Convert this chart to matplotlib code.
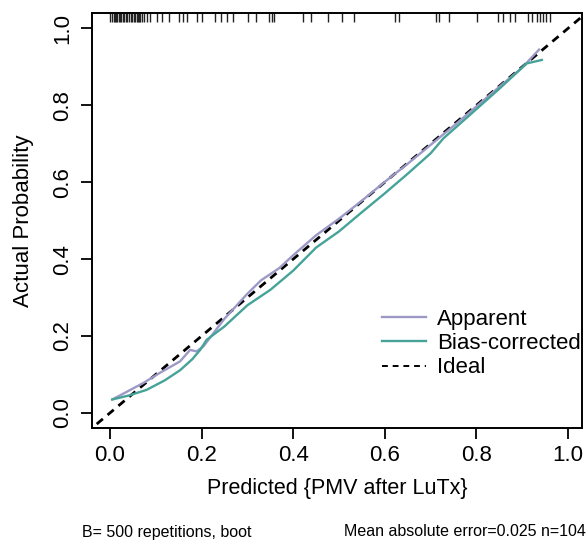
"""Calibration curve: apparent vs bias-corrected (rms-style plot)."""

import matplotlib
matplotlib.use("Agg")
import matplotlib.pyplot as plt
from matplotlib.lines import Line2D
import matplotlib.transforms as mtransforms

plt.rcParams["font.family"] = ["Liberation Sans", "DejaVu Sans"]

# apparent calibration curve
app_x = [0.005, 0.04, 0.073, 0.11, 0.153, 0.175, 0.189, 0.204, 0.25, 0.30, 0.33,
         0.37, 0.40, 0.45, 0.50, 0.55, 0.60, 0.65, 0.70, 0.75, 0.80, 0.85, 0.90, 0.937]
app_y = [0.035, 0.057, 0.078, 0.105, 0.134, 0.164, 0.160, 0.173, 0.245, 0.31, 0.345,
         0.377, 0.41, 0.462, 0.505, 0.552, 0.601, 0.648, 0.697, 0.746, 0.797, 0.848, 0.898, 0.945]

# bias-corrected calibration curve
bc_x = [0.005, 0.04, 0.08, 0.12, 0.153, 0.18, 0.197, 0.211, 0.25, 0.30, 0.35,
        0.40, 0.45, 0.50, 0.55, 0.60, 0.65, 0.70, 0.728, 0.80, 0.85, 0.91, 0.943]
bc_y = [0.035, 0.045, 0.06, 0.085, 0.111, 0.14, 0.164, 0.19, 0.225, 0.28, 0.32,
        0.37, 0.43, 0.472, 0.522, 0.571, 0.622, 0.675, 0.714, 0.79, 0.843, 0.909, 0.918]

# rug of predicted values (top of panel)
rug_x = [0.000, 0.004, 0.008, 0.010, 0.013, 0.016, 0.019, 0.022, 0.025, 0.028,
         0.031, 0.034, 0.037, 0.041, 0.045, 0.048, 0.052, 0.055, 0.058, 0.061,
         0.063, 0.066, 0.070, 0.075, 0.080, 0.087, 0.102, 0.113, 0.129, 0.151,
         0.159, 0.169, 0.191, 0.202, 0.229, 0.242, 0.255, 0.269, 0.301, 0.318,
         0.348, 0.354, 0.359, 0.421, 0.439, 0.475, 0.506, 0.533, 0.623, 0.630,
         0.711, 0.718, 0.741, 0.802, 0.848, 0.859, 0.873, 0.884, 0.912, 0.921,
         0.933, 0.939, 0.945, 0.953, 0.961]

ticks = [0.0, 0.2, 0.4, 0.6, 0.8, 1.0]
tick_labels = ["0.0", "0.2", "0.4", "0.6", "0.8", "1.0"]

fig = plt.figure(figsize=(5.87, 5.43), dpi=100)
ax = fig.add_axes([0.1572, 0.2112, 0.8338, 0.7648])

ax.plot([-0.1, 1.1], [-0.1, 1.1], color="black", lw=2, dashes=(2.9, 2.2))
ax.plot(app_x, app_y, color="#9d99c7", lw=1.7)
ax.plot(bc_x, bc_y, color="#45a398", lw=1.7)

trans = mtransforms.blended_transform_factory(ax.transData, ax.transAxes)
ax.vlines(rug_x, 0.979, 1.0, transform=trans, color="#222222", lw=1.0)

ax.set_xlim(-0.0386, 1.03)
ax.set_ylim(-0.04, 1.04)
ax.set_xticks(ticks)
ax.set_xticklabels(tick_labels)
ax.set_yticks(ticks)
ax.set_yticklabels(tick_labels, rotation=90, va="center")
ax.tick_params(axis="both", direction="out", length=8, width=1.3,
               labelsize=16, color="black")
ax.tick_params(axis="x", pad=4)
ax.tick_params(axis="y", pad=6)
for sp in ax.spines.values():
    sp.set_linewidth(1.4)

ax.set_xlabel("Predicted {PMV after LuTx}", fontsize=15.5)
ax.set_ylabel("Actual Probability", fontsize=16)
ax.xaxis.set_label_coords(0.5, -0.145)
ax.yaxis.set_label_coords(-0.14, 0.5)
ax.xaxis.label.set_va("center")
ax.yaxis.label.set_va("center")

handles = [Line2D([], [], color="#9d99c7", lw=1.7),
           Line2D([], [], color="#45a398", lw=1.7),
           Line2D([], [], color="black", lw=1.4, dashes=(3, 2.5))]
ax.legend(handles, ["Apparent", "Bias-corrected", "Ideal"], loc="upper left",
          bbox_to_anchor=(0.591, 0.288), frameon=False, fontsize=16,
          handlelength=2.0, handletextpad=0.5, labelspacing=0.15,
          borderpad=0, borderaxespad=0)

fig.text(82 / 587, 1 - 532 / 543, "B= 500 repetitions, boot", fontsize=11.5,
         ha="left", va="center")
fig.text(586 / 587, 1 - 532 / 543, "Mean absolute error=0.025 n=104", fontsize=11.5,
         ha="right", va="center")

fig.savefig("out.png", dpi=100)
